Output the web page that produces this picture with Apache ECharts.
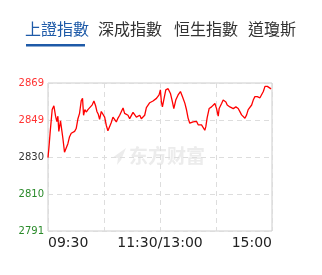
<!DOCTYPE html>
<html>
<head>
<meta charset="utf-8">
<script src="https://cdn.jsdelivr.net/npm/echarts@6/dist/echarts.min.js"></script>
<style>
html,body{margin:0;padding:0;background:#fff;}
#c{width:322px;height:275px;}
</style>
</head>
<body>
<div id="c"></div>
<script>
var tabs = ['上證指數', '深成指數', '恒生指數', '道瓊斯'];
var yTickLabels = ['2791', '2810', '2830', '2849', '2869'];
var xTickLabels = {0: '09:30', 120: '11:30/13:00', 240: '15:00'};
var minutes = [0, 1, 2.3, 4.5, 6.3, 8.1, 9.5, 10.6, 11.6, 13.4, 14.9, 15.9, 17.7, 19.5, 21.3, 23.1, 24.9, 26.7, 28.5, 30.2, 32, 33.8, 35.6, 37, 38.1, 39.5, 41, 42.8, 44.6, 47.4, 49.2, 51, 52.4, 53.9, 55.3, 57.1, 58.9, 60.7, 62.5, 64.2, 66, 67.8, 69.6, 71.4, 73.2, 75, 76.8, 78.6, 80.4, 82.1, 83.9, 85.7, 87.5, 89.3, 91.1, 92.9, 94.7, 96.5, 98.3, 100, 101.8, 103.6, 105.4, 107.2, 109, 112.5, 116.2, 119, 120.4, 121.5, 122.6, 124, 126.2, 128.7, 131.2, 133.3, 134.8, 136.9, 139.4, 141.9, 144.1, 146.6, 148.4, 150.1, 151.9, 153.7, 155.5, 157.3, 159.1, 160.9, 162.7, 164.5, 166.2, 168, 169.1, 170.5, 172.7, 175.2, 177, 178.8, 180.6, 182.4, 183.4, 186, 187.7, 190.6, 192, 194.9, 198.5, 201.3, 203.8, 205.6, 207.4, 209.2, 211, 212.8, 214.5, 216.4, 218.2, 219.9, 221.7, 224.2, 227.1, 228.9, 230.7, 232.5, 235, 237.1, 239];
var prices = [2829.7, 2835, 2843, 2855, 2857, 2851.5, 2848.7, 2851.5, 2843.5, 2849, 2850, 2840, 2832.5, 2831.8, 2837, 2840.7, 2842.5, 2843, 2843.5, 2845, 2850, 2853, 2859.6, 2861, 2852, 2855, 2853.7, 2855, 2854.5, 2857.5, 2859.5, 2857, 2854, 2852.5, 2849.8, 2854, 2855, 2851, 2846.6, 2843.8, 2842.8, 2848.2, 2851, 2850, 2848.5, 2850.5, 2852, 2853, 2855.8, 2853, 2853.8, 2852, 2850.2, 2849.5, 2853.5, 2852.8, 2851, 2850.2, 2852, 2850.2, 2849.6, 2852, 2856, 2856.8, 2858.6, 2859.5, 2860.9, 2862.7, 2865.4, 2859, 2856.4, 2860, 2865.4, 2866, 2863.5, 2859, 2855.5, 2860, 2862.7, 2864.5, 2861.8, 2858.4, 2854.9, 2850.5, 2847.8, 2846.9, 2848.5, 2847.5, 2848.8, 2847, 2847.8, 2846.9, 2845.9, 2844.1, 2846, 2850.6, 2855.6, 2856.4, 2855.5, 2858.2, 2855.5, 2851.5, 2855.6, 2858.2, 2860, 2859, 2857.4, 2856.4, 2855.5, 2856.4, 2855.6, 2853.9, 2852.2, 2853, 2850.4, 2852.2, 2855, 2855.8, 2857.4, 2860, 2861.8, 2861.8, 2861.2, 2861.8, 2864.5, 2867.2, 2867.2, 2866.3, 2865.9];

var yMin = 2791, yMax = 2869;
var yColors = ['#2a8a2a', '#2a8a2a', '#333333', '#ff3333', '#ff3333'];

var lineData = minutes.map(function (m, i) { return [m, prices[i]]; });

var tabGraphics = [];
var tabX = [25, 98, 174, 248];
tabs.forEach(function (t, i) {
  tabGraphics.push({
    type: 'text', left: tabX[i], top: 21,
    style: {
      text: t, fill: i === 0 ? '#1e5aa8' : '#333333',
      font: '16px "Noto Sans CJK TC", "Noto Sans CJK SC", sans-serif'
    }
  });
});
tabGraphics.push({
  type: 'rect', left: 26, top: 44,
  shape: {width: 59, height: 2.5},
  style: {fill: '#1e5aa8'}
});
tabGraphics.push({
  type: 'text', left: 129, top: 146,
  style: {
    text: '东方财富', fill: '#ececec',
    font: 'bold 19px "Noto Sans CJK SC", sans-serif'
  },
  z: 0
});
tabGraphics.push({
  type: 'polygon', z: 0,
  shape: {points: [[112, 158], [126, 148], [121, 160], [117, 165], [118, 158]]},
  style: {fill: '#ececec'}
});

var chart = echarts.init(document.getElementById('c'), null, {renderer: 'canvas'});
chart.setOption({
  animation: false,
  backgroundColor: '#ffffff',
  graphic: tabGraphics,
  grid: {
    left: 48, right: 50, top: 83, bottom: 44,
    show: true, borderColor: '#cccccc', borderWidth: 1,
    containLabel: false
  },
  xAxis: {
    type: 'value', min: 0, max: 240, interval: 60,
    axisLine: {show: false}, axisTick: {show: false},
    splitLine: {show: true, lineStyle: {color: '#dddddd', type: [5, 4], width: 1}},
    axisLabel: {
      margin: 5,
      color: '#222222',
      fontFamily: 'DejaVu Sans',
      fontSize: 14,
      alignMinLabel: 'left',
      alignMaxLabel: 'right',
      formatter: function (v) { return xTickLabels[v] || ''; }
    }
  },
  yAxis: {
    type: 'value', min: yMin, max: yMax, interval: (yMax - yMin) / 4,
    axisLine: {show: false}, axisTick: {show: false},
    splitLine: {show: true, lineStyle: {color: '#dddddd', type: [5, 4], width: 1}},
    axisLabel: {
      margin: 4,
      fontFamily: 'DejaVu Sans',
      fontSize: 10,
      formatter: function (v, i) { return yTickLabels[i]; },
      color: function (v, i) { return yColors[i]; }
    }
  },
  series: [{
    type: 'line', data: lineData, showSymbol: false, symbol: 'none',
    lineStyle: {color: '#ff0000', width: 1.3},
    z: 5
  }]
});
</script>
</body>
</html>
